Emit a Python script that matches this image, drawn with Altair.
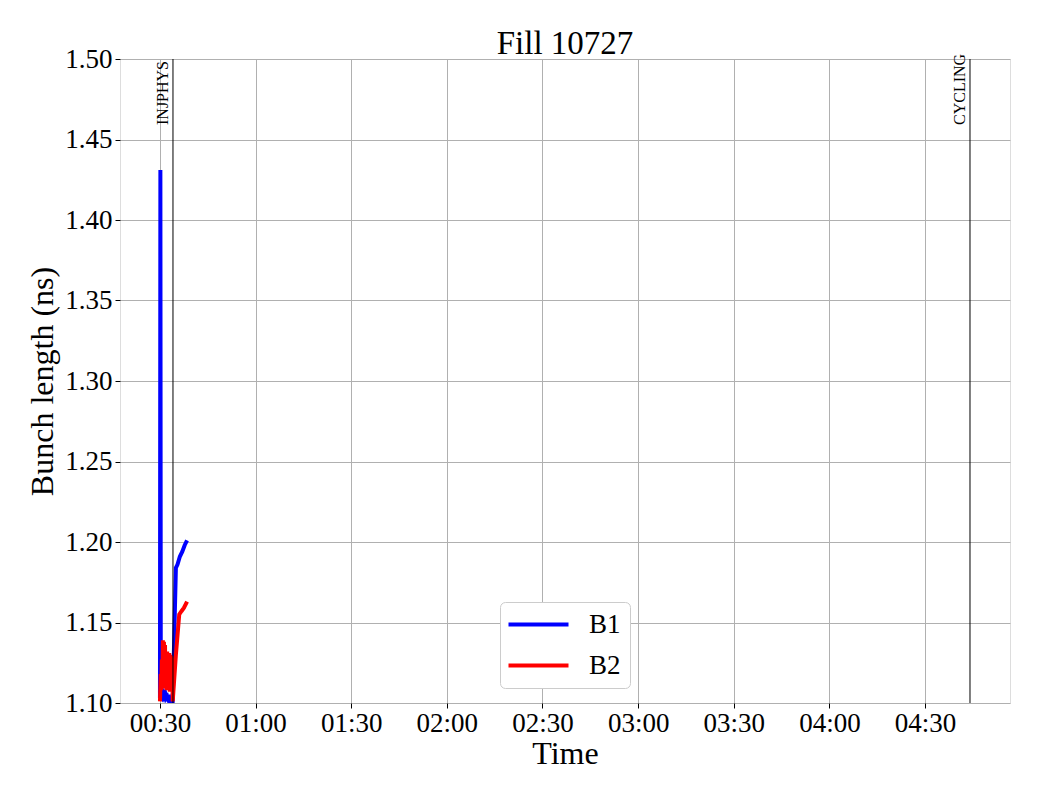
import altair as alt
import pandas as pd

DAY = "2025-06-01T"

b1_times = ["00:30:00", "00:30:08", "00:30:16", "00:30:40", "00:31:00", "00:31:20", "00:31:40",
            "00:32:00", "00:32:20", "00:32:40", "00:33:00", "00:33:20", "00:33:40", "00:34:00",
            "00:35:00", "00:35:30", "00:36:15", "00:37:00", "00:37:45", "00:38:30"]
b1_values = [1.103, 1.431, 1.104, 1.103, 1.106, 1.104, 1.106,
             1.103, 1.104, 1.102, 1.103, 1.101, 1.101, 1.101,
             1.184, 1.186, 1.191, 1.194, 1.198, 1.201]

b2_times = ["00:30:00", "00:30:15", "00:30:25", "00:30:35", "00:30:45", "00:30:55", "00:31:05",
            "00:31:15", "00:31:25", "00:31:35", "00:31:45", "00:31:55", "00:32:05", "00:32:15",
            "00:32:25", "00:32:35", "00:32:45", "00:32:55", "00:33:05", "00:33:15", "00:33:25",
            "00:33:35", "00:33:45", "00:33:55", "00:34:00", "00:35:00", "00:36:03", "00:36:45",
            "00:37:30", "00:38:30"]
b2_values = [1.101, 1.118, 1.108, 1.127, 1.110, 1.139, 1.112,
             1.138, 1.109, 1.136, 1.110, 1.131, 1.108, 1.132,
             1.109, 1.130, 1.108, 1.131, 1.107, 1.130, 1.108,
             1.129, 1.107, 1.128, 1.101, 1.130, 1.155, 1.157,
             1.159, 1.163]

event_times = ["00:34:05", "04:44:06"]
event_labels = ["INJPHYS", "CYCLING"]

tick_labels = ["00:30", "01:00", "01:30", "02:00", "02:30", "03:00", "03:30", "04:00", "04:30"]
y_ticks = [1.10, 1.15, 1.20, 1.25, 1.30, 1.35, 1.40, 1.45, 1.50]
x_domain = ["00:17:28", "04:56:39"]
y_domain = [1.10, 1.50]

series = ["B1", "B2"]
colors = ["#0000ff", "#ff0000"]

FONT = "Liberation Serif"

rows = []
for t, v in zip(b1_times, b1_values):
    rows.append({"time": DAY + t, "value": v, "beam": "B1", "order": 0})
for t, v in zip(b2_times, b2_values):
    rows.append({"time": DAY + t, "value": v, "beam": "B2", "order": 1})
df = pd.DataFrame(rows)

ev = pd.DataFrame({"time": [DAY + t for t in event_times], "label": event_labels})


def dt(hms):
    parts = [int(p) for p in hms.split(":")]
    while len(parts) < 3:
        parts.append(0)
    return alt.DateTime(year=2025, month=6, date=1, hours=parts[0], minutes=parts[1], seconds=parts[2])


xscale = alt.Scale(domain=[dt(x_domain[0]), dt(x_domain[1])])
xaxis = alt.Axis(values=[dt(t) for t in tick_labels], format="%H:%M", title="Time",
                 labelFontSize=27, titleFontSize=32, labelFont=FONT, titleFont=FONT,
                 titleFontWeight="normal",
                 labelColor="black", titleColor="black", tickColor="black", tickSize=5,
                 labelPadding=2, titlePadding=2, grid=True, gridColor="#b0b0b0", gridWidth=1,
                 domain=False, labelFlush=False)
yaxis = alt.Axis(values=y_ticks, format=".2f", title="Bunch length (ns)",
                 labelFontSize=27, titleFontSize=32, labelFont=FONT, titleFont=FONT,
                 titleFontWeight="normal",
                 labelColor="black", titleColor="black", tickColor="black", tickSize=5,
                 labelPadding=3, titlePadding=5, grid=True, gridColor="#b0b0b0", gridWidth=1,
                 domain=False)

lines = alt.Chart(df).mark_line(strokeWidth=4, clip=True).encode(
    x=alt.X("time:T", scale=xscale, axis=xaxis),
    y=alt.Y("value:Q", scale=alt.Scale(domain=y_domain, nice=False, zero=False), axis=yaxis),
    color=alt.Color("beam:N", scale=alt.Scale(domain=series, range=colors),
                    legend=alt.Legend(orient="none", legendX=380, legendY=543, title=None,
                                      symbolType="M-1.4,0H4.6", symbolSize=400, symbolStrokeWidth=4,
                                      labelFontSize=27, labelFont=FONT, labelColor="black",
                                      labelOffset=53, padding=9, rowPadding=13,
                                      fillColor="white", strokeColor="#cccccc", cornerRadius=5)),
    order="order:Q",
    detail="beam:N",
)

rules = alt.Chart(ev).mark_rule(color="black", strokeWidth=1).encode(
    x=alt.X("time:T", scale=xscale)
)

texts = alt.Chart(ev).mark_text(angle=270, align="left", baseline="bottom", fontSize=16,
                                font=FONT, color="black", dy=-2).encode(
    x=alt.X("time:T", scale=xscale),
    y=alt.value(66),
    text="label:N",
)

chart = alt.layer(lines, rules, texts).properties(
    width=890, height=644,
    title=alt.TitleParams("Fill 10727", fontSize=33, font=FONT, fontWeight="normal",
                          color="black", offset=2, frame="group", dy=18),
    autosize=alt.AutoSizeParams(type="none"),
    padding={"left": 112, "top": 51, "right": 22, "bottom": 89},
).configure_view(stroke="black", strokeWidth=1).configure(background="white")

chart.save("out.html", embed_options={"renderer": "svg", "actions": False})
